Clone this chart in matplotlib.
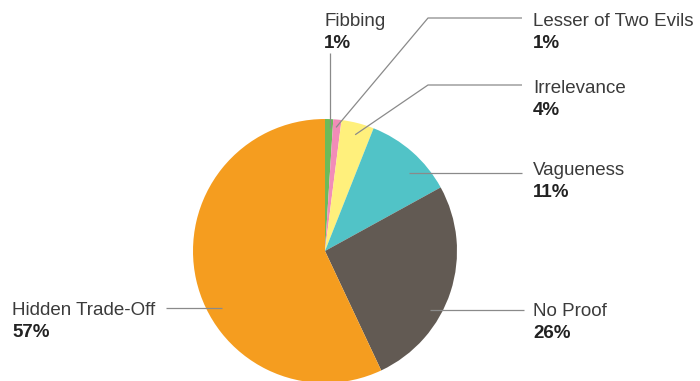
import numpy as np
import matplotlib.pyplot as plt

# data
labels = ["Fibbing", "Lesser of Two Evils", "Irrelevance", "Vagueness",
          "No Proof", "Hidden Trade-Off"]
shares = [1, 1, 4, 11, 26, 57]
colors = ["#6cbb5a", "#f28cb8", "#fff07c", "#51c3c7", "#625a53", "#f59d1f"]

W, H = 700, 381
CX, CY, R = 325, 251, 132  # pie centre / radius in reference pixels (y down)

# label layout: (anchor fraction along wedge, anchor radius, text x, text baseline,
#                elbow x or None, line y or None, line end x)
layout = [
    (0.36, 0.93, 324, 26, None, 53, None),
    (0.58, 0.94, 533, 26, 428, 18, 522),
    (0.49, 0.91, 533, 93, 428, 85, 522),
    (0.35, 0.87, 533, 175, None, None, 522),
    (0.38, 0.91, 533, 316, None, None, 524),
    (0.58, 0.89, 12, 315, None, None, 166),
]


def py(y):
    return H - y


plt.rcParams["font.family"] = ["Liberation Sans", "DejaVu Sans"]
fig = plt.figure(figsize=(W / 100, H / 100), dpi=100)
ax = fig.add_axes([0, 0, 1, 1])

wedges, _ = ax.pie(shares, colors=colors, startangle=90, counterclock=False,
                   center=(CX, py(CY)), radius=R,
                   wedgeprops=dict(linewidth=0))

line_kw = dict(color="#8a8a8a", lw=0.9, solid_capstyle="butt")
for w, name, val, (f, r, tx, tb, ex, ly, lx) in zip(wedges, labels, shares, layout):
    ang = np.deg2rad(w.theta1 + f * (w.theta2 - w.theta1))
    ax0 = CX + R * r * np.cos(ang)
    ay0 = py(CY) + R * r * np.sin(ang)
    yline = ay0 if ly is None else py(ly)
    xel = ax0 if ex is None else ex
    xend = xel if lx is None else lx
    ax.plot([ax0, xel, xend], [ay0, yline, yline], **line_kw)
    ax.text(tx, py(tb), name, fontsize=13.5, color="#3b3b3b", va="baseline",
            ha="left")
    ax.text(tx, py(tb + 22), f"{val}%", fontsize=13.5, color="#222222",
            fontweight="bold", va="baseline", ha="left")

ax.set_xlim(0, W)
ax.set_ylim(0, H)
ax.set_aspect("equal", adjustable="box")
ax.axis("off")

fig.savefig("out.png", dpi=100)
